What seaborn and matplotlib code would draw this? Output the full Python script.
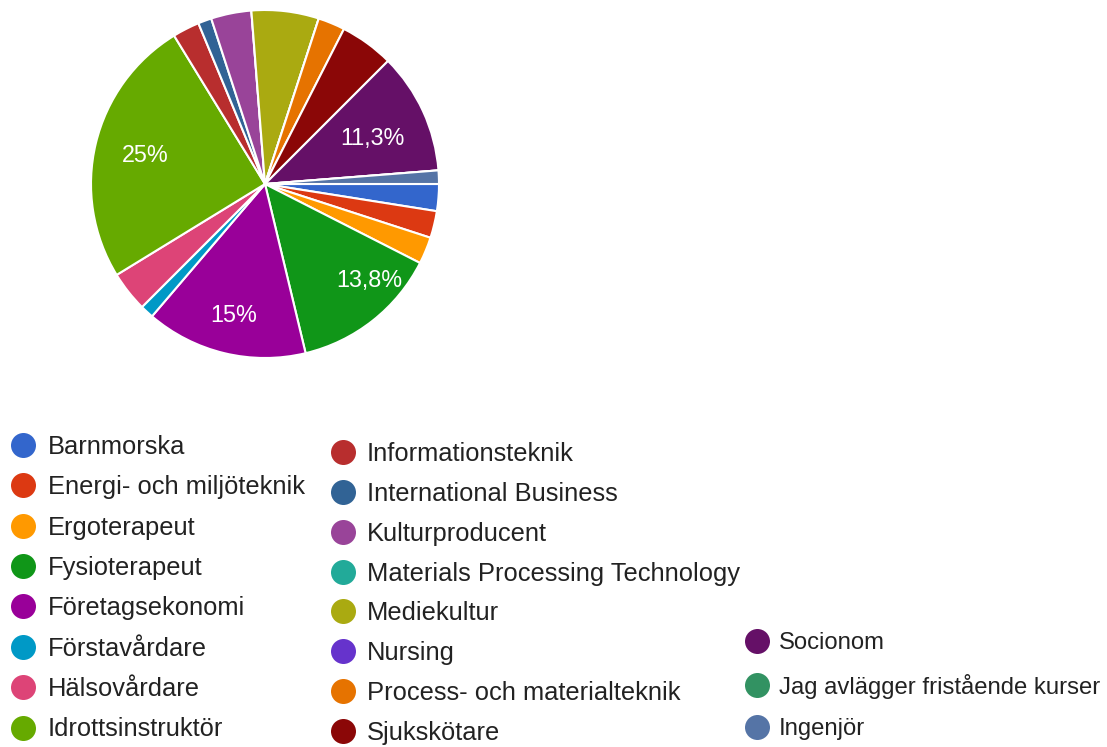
import numpy as np
import matplotlib.pyplot as plt
import seaborn as sns
from matplotlib.lines import Line2D

# Data (80 answers in total)
categories = [
    'Barnmorska', 'Energi- och miljöteknik', 'Ergoterapeut', 'Fysioterapeut',
    'Företagsekonomi', 'Förstavårdare', 'Hälsovårdare', 'Idrottsinstruktör',
    'Informationsteknik', 'International Business', 'Kulturproducent',
    'Materials Processing Technology', 'Mediekultur', 'Nursing',
    'Process- och materialteknik', 'Sjukskötare', 'Socionom',
    'Jag avlägger fristående kurser', 'Ingenjör',
]
counts = [2, 2, 2, 11, 12, 1, 3, 20, 2, 1, 3, 0, 5, 0, 2, 4, 9, 0, 1]
slice_colors = [
    '#3366cc', '#dc3912', '#ff9900', '#109618', '#990099', '#0099c6',
    '#dd4477', '#66aa00', '#b82e2e', '#316395', '#994499', '#22aa99',
    '#aaaa11', '#6633cc', '#e67300', '#8b0707', '#651067', '#329262',
    '#5574a6',
]

sns.set_theme(style='white')
plt.rcParams['font.family'] = ['Liberation Sans', 'DejaVu Sans']

W, H = 1107, 747
fig = plt.figure(figsize=(W / 100, H / 100), dpi=100)

# pie placed in pixel terms like the original
cx, cy, r = 265, 184, 174
ax = fig.add_axes([(cx - r) / W, 1 - (cy + r) / H, 2 * r / W, 2 * r / H])
wedges, _ = ax.pie(counts, colors=slice_colors, startangle=0,
                   counterclock=False, radius=1,
                   wedgeprops=dict(edgecolor='white', linewidth=1.5))
ax.set_xlim(-1, 1)
ax.set_ylim(-1, 1)
ax.axis('off')

# percentage labels only on the big slices, Swedish decimal comma
total = sum(counts)
label_dist = {'Idrottsinstruktör': 0.71, 'Företagsekonomi': 0.78,
              'Fysioterapeut': 0.82, 'Socionom': 0.67}
label_turn = {'Fysioterapeut': 9, 'Socionom': -2}  # degrees, nudges
for w, n, name in zip(wedges, counts, categories):
    share = 100 * n / total
    if share < 10:
        continue
    txt = f"{share + 1e-9:.1f}".rstrip('0').rstrip('.').replace('.', ',') + '%'
    mid = np.deg2rad((w.theta1 + w.theta2) / 2 + label_turn.get(name, 0))
    d = label_dist.get(name, 0.7)
    ax.text(d * np.cos(mid), d * np.sin(mid), txt, color='white',
            fontsize=16.8, ha='center', va='center')

# legend in three columns, as in the original
def col_legend(idx, x_px, y_px, size, spacing, pad):
    handles = [Line2D([], [], marker='o', linestyle='none', markersize=18,
                      markerfacecolor=slice_colors[i], markeredgewidth=0)
               for i in idx]
    leg = fig.legend(handles, [categories[i] for i in idx], loc='upper left',
                     bbox_to_anchor=(x_px / W, 1 - y_px / H), frameon=False,
                     fontsize=size, borderpad=0, borderaxespad=0,
                     handlelength=25.6 / (size / 0.72), handletextpad=pad,
                     labelspacing=spacing)
    for t in leg.get_texts():
        t.set_color('#222222')

col_legend(range(0, 8), 10, 435, 18.4, 0.64, 0.48)
col_legend(range(8, 16), 330, 442, 18.4, 0.62, 0.45)
col_legend(range(16, 19), 744, 632, 17.2, 0.82, 0.40)

fig.savefig('out.png', dpi=100)
